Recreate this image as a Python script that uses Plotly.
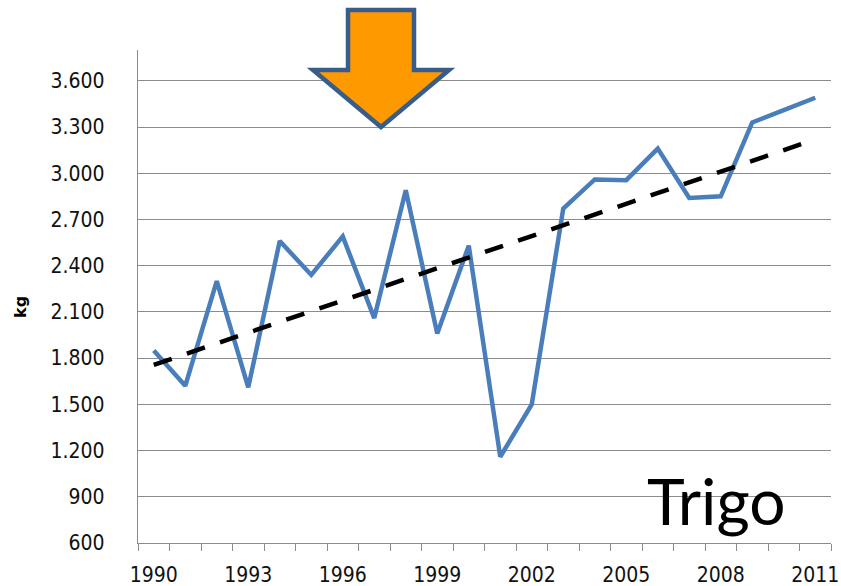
import numpy as np
import plotly.graph_objects as go

years = list(range(1990, 2012))
trigo_kg = [1850, 1620, 2300, 1610, 2560, 2340, 2590, 2060, 2890, 1960, 2530,
            1160, 1500, 2770, 2960, 2955, 3160, 2840, 2850, 3330, 3410, 3490]
y_ticks = [600, 900, 1200, 1500, 1800, 2100, 2400, 2700, 3000, 3300, 3600]
y_tick_text = ["600", "900", "1.200", "1.500", "1.800", "2.100", "2.400",
               "2.700", "3.000", "3.300", "3.600"]
x_label_years = [1990, 1993, 1996, 1999, 2002, 2005, 2008, 2011]

# linear trendline fitted to the series (as the spreadsheet trendline)
coef = np.polyfit(years, trigo_kg, 1)
trend = [coef[0] * y + coef[1] for y in years]

W, H = 841, 586
L, R, T, B = 138, 10, 50, 43
pw, ph = W - L - R, H - T - B


def px(x):
    return (x - L) / pw


def py(y):
    return (H - B - y) / ph


fig = go.Figure()
fig.add_trace(go.Scatter(x=years, y=trigo_kg, mode="lines",
                         line=dict(color="#4A7EBB", width=4.5),
                         showlegend=False, hoverinfo="skip"))
fig.add_trace(go.Scatter(x=years, y=trend, mode="lines",
                         line=dict(color="#000000", width=4.5, dash="19px,16px"),
                         showlegend=False, hoverinfo="skip"))

# decorative arrow
pts = [(348, 10), (414, 10), (414, 70), (449, 70), (381, 127), (313, 70), (348, 70)]
path = "M " + " L ".join(f"{px(a):.5f},{py(b):.5f}" for a, b in pts) + " Z"
fig.add_shape(type="path", xref="paper", yref="paper", path=path,
              fillcolor="#FF9900", line=dict(color="#385D8A", width=4.5), layer="above")

fig.add_annotation(text="kg", xref="paper", yref="paper", x=px(20), y=py(307),
                   textangle=-90, showarrow=False, xanchor="center", yanchor="middle",
                   font=dict(family="DejaVu Sans", size=16, color="#000000", weight="bold"))
fig.add_annotation(text="Trigo", xref="paper", yref="paper", x=px(716), y=py(500),
                   showarrow=False, xanchor="center", yanchor="middle",
                   font=dict(family="Lato", size=64, color="#000000"))

fig.update_layout(
    width=W, height=H,
    margin=dict(l=L, r=R, t=T, b=B, pad=0),
    paper_bgcolor="white", plot_bgcolor="white",
    font=dict(family="DejaVu Sans Condensed, DejaVu Sans", size=21, color="#111111"),
)
fig.update_xaxes(range=[1989.5, 2011.5], tickvals=x_label_years,
                 ticktext=[str(v) for v in x_label_years], automargin=False,
                 ticks="", showgrid=False, zeroline=False,
                 showline=True, linecolor="#8C8C8C", linewidth=1.3,
                 ticklabelstandoff=13,
                 minor=dict(tickvals=[y - 0.5 for y in years] + [2011.5],
                            ticks="outside", ticklen=7, tickcolor="#8C8C8C",
                            tickwidth=1.3, showgrid=False))
fig.update_yaxes(range=[600, 3800], tickvals=y_ticks, ticktext=y_tick_text,
                 automargin=False,
                 ticks="", showgrid=True, gridcolor="#8C8C8C", gridwidth=1.3,
                 zeroline=False, showline=True, linecolor="#8C8C8C", linewidth=1.3,
                 ticklabelstandoff=28)

fig.write_html("out.html", config={"displayModeBar": False},
               post_script="document.body.style.margin='0';document.body.style.overflow='hidden';")
